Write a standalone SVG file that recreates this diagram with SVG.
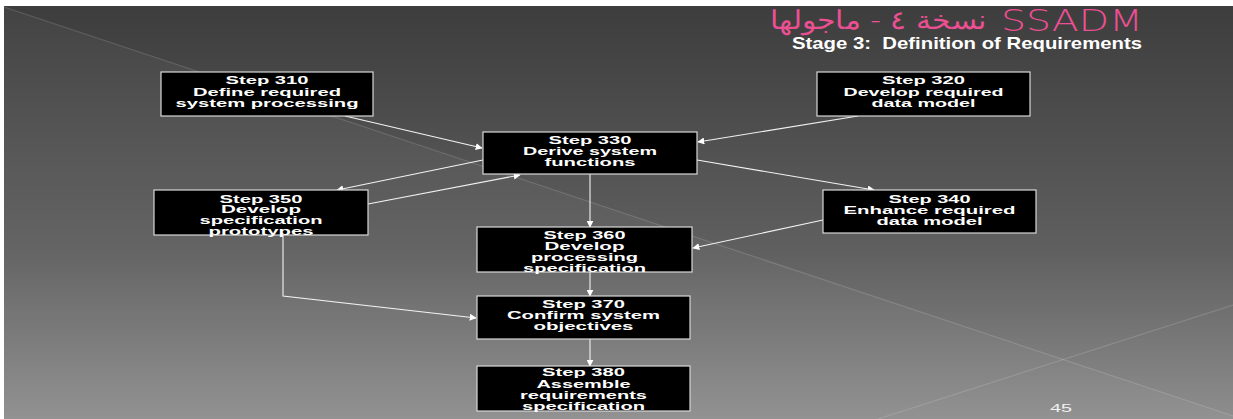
<svg xmlns="http://www.w3.org/2000/svg" width="1233" height="419" viewBox="0 0 1233 419">
  <defs>
    <linearGradient id="bg" x1="0" y1="0" x2="0" y2="1">
      <stop offset="0" stop-color="#3d3d3d"/>
      <stop offset="0.6" stop-color="#606060"/>
      <stop offset="1" stop-color="#8e8e8e"/>
    </linearGradient>
    <marker id="arrow" viewBox="0 0 10 10" refX="9" refY="5" markerWidth="7" markerHeight="7" markerUnits="userSpaceOnUse" orient="auto">
      <path d="M0,0 L10,5 L0,10 z" fill="#ffffff"/>
    </marker>
    <style>
      .box { fill: #000000; stroke: #d8d8d8; stroke-width: 1.2; }
      .lbl { font-family: "Liberation Sans", Arial, sans-serif; font-weight: bold; font-size: 10.5px; fill: #ffffff; text-anchor: middle; }
      .conn { stroke: #f2f2f2; stroke-width: 1.1; fill: none; marker-end: url(#arrow); }
      .deco { stroke: #ffffff; stroke-opacity: 0.14; stroke-width: 1.2; fill: none; }
      .pink { font-family: "DejaVu Sans", sans-serif; font-weight: 200; fill: #ec4f92; }
    </style>
  </defs>

  <!-- slide background -->
  <rect x="0" y="0" width="1233" height="419" fill="#ffffff"/>
  <rect x="4" y="6" width="1229" height="413" fill="url(#bg)"/>
  <polygon points="4,7 1233,416 1233,419 4,419" fill="#ffffff" fill-opacity="0.035"/>
  <line class="deco" x1="4" y1="7" x2="1233" y2="416"/>
  <line class="deco" x1="878" y1="419" x2="1233" y2="305"/>

  <!-- titles -->
  <g id="title">
    <text class="pink" x="986" y="29" font-size="26" text-anchor="end" textLength="216" lengthAdjust="spacingAndGlyphs">نسخة ٤ - ماجولها</text>
    <text class="pink" x="1001" y="31" font-size="30" textLength="142" lengthAdjust="spacingAndGlyphs">SSADM</text>
    <text x="792" y="49" font-family="Liberation Sans, Arial, sans-serif" font-weight="bold" font-size="17" fill="#ffffff" textLength="350" lengthAdjust="spacingAndGlyphs">Stage 3:&#160; Definition of Requirements</text>
  </g>

  <!-- connectors -->
  <g id="connectors">
    <line class="conn" x1="345" y1="116" x2="482" y2="148"/>
    <line class="conn" x1="858" y1="116" x2="698" y2="142"/>
    <line class="conn" x1="483" y1="160" x2="337" y2="190"/>
    <line class="conn" x1="368" y1="204" x2="520" y2="175"/>
    <line class="conn" x1="697" y1="160" x2="874" y2="190"/>
    <line class="conn" x1="823" y1="220" x2="693" y2="248"/>
    <line class="conn" x1="590" y1="174" x2="590" y2="227"/>
    <line class="conn" x1="590" y1="272" x2="590" y2="296"/>
    <polyline class="conn" points="283,235 283,296 476,318"/>
    <line class="conn" x1="590" y1="339" x2="590" y2="366"/>
  </g>

  <!-- process steps -->
  <g id="step310">
    <rect class="box" x="161" y="72" width="212" height="44"/>
    <text class="lbl" x="267" y="84" textLength="83" lengthAdjust="spacingAndGlyphs">Step 310</text>
    <text class="lbl" x="267" y="95.5" textLength="148" lengthAdjust="spacingAndGlyphs">Define required</text>
    <text class="lbl" x="267" y="107" textLength="183" lengthAdjust="spacingAndGlyphs">system processing</text>
  </g>

  <g id="step320">
    <rect class="box" x="817" y="72" width="213" height="44"/>
    <text class="lbl" x="923.5" y="84" textLength="83" lengthAdjust="spacingAndGlyphs">Step 320</text>
    <text class="lbl" x="923.5" y="95.5" textLength="160" lengthAdjust="spacingAndGlyphs">Develop required</text>
    <text class="lbl" x="923.5" y="107" textLength="104" lengthAdjust="spacingAndGlyphs">data model</text>
  </g>

  <g id="step330">
    <rect class="box" x="483" y="132" width="214" height="42"/>
    <text class="lbl" x="590" y="144" textLength="83" lengthAdjust="spacingAndGlyphs">Step 330</text>
    <text class="lbl" x="590" y="155" textLength="134" lengthAdjust="spacingAndGlyphs">Derive system</text>
    <text class="lbl" x="590" y="165.5" textLength="91" lengthAdjust="spacingAndGlyphs">functions</text>
  </g>

  <g id="step350">
    <rect class="box" x="154" y="190" width="214" height="45"/>
    <text class="lbl" x="261" y="202.5" textLength="83" lengthAdjust="spacingAndGlyphs">Step 350</text>
    <text class="lbl" x="261" y="213" textLength="80" lengthAdjust="spacingAndGlyphs">Develop</text>
    <text class="lbl" x="261" y="224" textLength="123" lengthAdjust="spacingAndGlyphs">specification</text>
    <text class="lbl" x="261" y="235" textLength="105" lengthAdjust="spacingAndGlyphs">prototypes</text>
  </g>

  <g id="step340">
    <rect class="box" x="823" y="190" width="213" height="43"/>
    <text class="lbl" x="929.5" y="202.5" textLength="82" lengthAdjust="spacingAndGlyphs">Step 340</text>
    <text class="lbl" x="929.5" y="213.5" textLength="172" lengthAdjust="spacingAndGlyphs">Enhance required</text>
    <text class="lbl" x="929.5" y="224.5" textLength="106" lengthAdjust="spacingAndGlyphs">data model</text>
  </g>

  <g id="step360">
    <rect class="box" x="477" y="227" width="215" height="45"/>
    <text class="lbl" x="584.5" y="239" textLength="82" lengthAdjust="spacingAndGlyphs">Step 360</text>
    <text class="lbl" x="584.5" y="250" textLength="80" lengthAdjust="spacingAndGlyphs">Develop</text>
    <text class="lbl" x="584.5" y="260.5" textLength="107" lengthAdjust="spacingAndGlyphs">processing</text>
    <text class="lbl" x="584.5" y="272" textLength="123" lengthAdjust="spacingAndGlyphs">specification</text>
  </g>

  <g id="step370">
    <rect class="box" x="477" y="296" width="213" height="43"/>
    <text class="lbl" x="583.5" y="307.5" textLength="83" lengthAdjust="spacingAndGlyphs">Step 370</text>
    <text class="lbl" x="583.5" y="318.5" textLength="153" lengthAdjust="spacingAndGlyphs">Confirm system</text>
    <text class="lbl" x="583.5" y="329.5" textLength="100" lengthAdjust="spacingAndGlyphs">objectives</text>
  </g>

  <g id="step380">
    <rect class="box" x="477" y="366" width="213" height="45"/>
    <text class="lbl" x="583.5" y="376" textLength="83" lengthAdjust="spacingAndGlyphs">Step 380</text>
    <text class="lbl" x="583.5" y="387.5" textLength="94" lengthAdjust="spacingAndGlyphs">Assemble</text>
    <text class="lbl" x="583.5" y="398.5" textLength="127" lengthAdjust="spacingAndGlyphs">requirements</text>
    <text class="lbl" x="583.5" y="410" textLength="123" lengthAdjust="spacingAndGlyphs">specification</text>
  </g>

  <!-- slide number -->
  <text x="1050" y="412" font-family="Liberation Sans, Arial, sans-serif" font-size="11.5" fill="#f0f0f0" textLength="22" lengthAdjust="spacingAndGlyphs">45</text>
</svg>
